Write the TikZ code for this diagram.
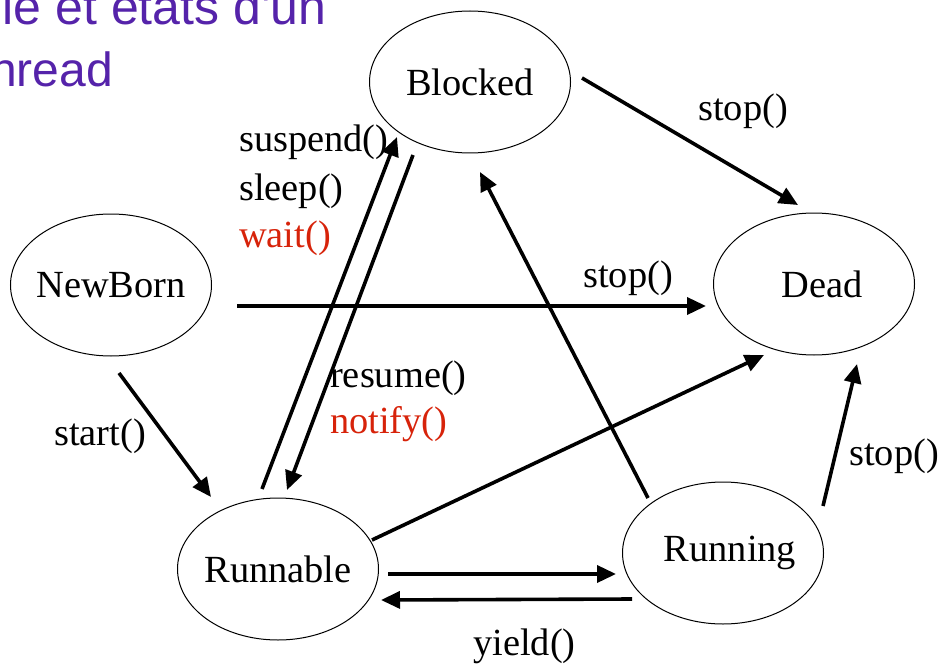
\documentclass[tikz,border=0pt]{standalone}
\usepackage{fontspec}
\setmainfont{Liberation Serif}
\newfontfamily\titlefont{Liberation Sans}
\usetikzlibrary{shapes.geometric,arrows.meta,calc}
\definecolor{titlepurple}{RGB}{85,35,170}
\definecolor{labelred}{RGB}{215,35,10}
\begin{document}
\begin{tikzpicture}[x=1pt,y=-1pt,
  state/.style={ellipse,draw,line width=1pt,minimum width=201pt,minimum height=142pt,inner sep=0pt,font=\fontsize{38.4}{46}\selectfont},
  conn/.style={line width=3.6pt,-{Triangle[length=19pt,width=17pt]}},
  lbl/.style={anchor=base west,inner sep=0pt,font=\fontsize{38.4}{46}\selectfont},
  redlbl/.style={lbl,text=labelred},
  titletext/.style={anchor=base west,inner sep=0pt,text=titlepurple,font=\titlefont\fontsize{49}{58}\selectfont}
  ]
\useasboundingbox (0,0) rectangle (941,663);
\clip (0,0) rectangle (941,663);

% title (cut off by the frame)
\node[titletext,font=\titlefont\fontsize{50}{58}\selectfont] (t1) at (2.5,25) {le et états d'un};
\node[titletext,font=\titlefont\fontsize{48}{58}\selectfont] (t2) at (-10,87) {hread};

% states
\node[state] (B)  at (470,82)  {\makebox[0pt]{Blocked}};
\node[state] (N)  at (111,285) {\makebox[0pt]{NewBorn}};
\node[state] (D)  at (814,284) {\makebox[0pt]{\hspace*{16pt}Dead}};
\node[state] (Ra) at (278,569) {\makebox[0pt]{Runnable}};
\node[state] (Rg) at (723,553) {\makebox[0pt]{\hspace*{14pt}Running}};

% connectors
\draw[conn] ($(B)+(112,-4)$)   -- ($(D)+(-16,-79)$);
\draw[conn] ($(N)+(126,21)$)   -- ($(D)+(-108,22)$);
\draw[conn] ($(Ra)+(94,-29)$)  -- ($(D)+(-50,71)$);
\draw[conn] ($(Rg)+(100,-47)$) -- ($(D)+(43,80)$);
\draw[conn] ($(Rg)+(-75,-55)$) -- ($(B)+(10,90)$);
\draw[conn] ($(N)+(8,88)$)     -- ($(Ra)+(-67,-72)$);
\draw[conn] ($(Ra)+(-16,-80)$) -- ($(B)+(-73,55)$);
\draw[conn] ($(B)+(-57,73)$)   -- ($(Ra)+(9,-79)$);
\draw[conn] ($(Ra)+(110,5)$)   -- ($(Rg)+(-107,21)$);
\draw[conn] ($(Rg)+(-91,46)$)  -- ($(Ra)+(103,31)$);

% labels
\node[lbl] (l1) at (698,121) {stop()};
\node[lbl] (l2) at (583,287) {stop()};
\node[lbl] (l3) at (849,465) {stop()};
\node[lbl] (l4) at (239,152) {suspend()};
\node[lbl] (l5) at (239,200) {sleep()};
\node[redlbl] (l6) at (239,247) {wait()};
\node[lbl] (l7) at (330,387) {resume()};
\node[redlbl] (l8) at (330,433) {notify()};
\node[lbl] (l9) at (54,445) {start()};
\node[lbl] (l10) at (473,655) {yield()};
\end{tikzpicture}
\end{document}
